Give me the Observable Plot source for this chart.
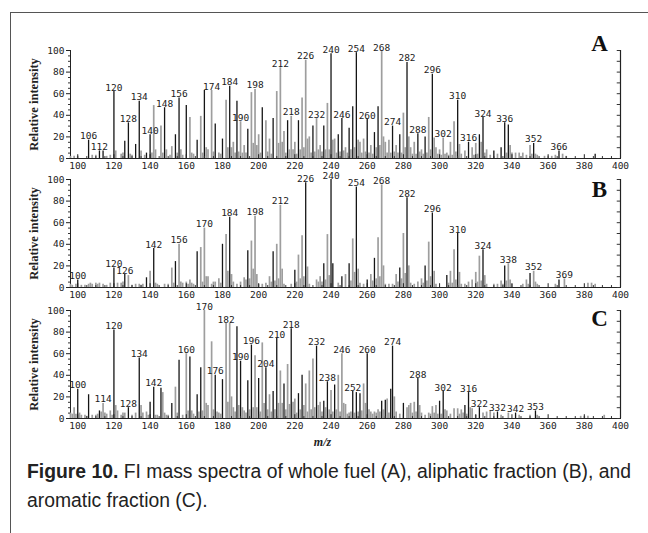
<!DOCTYPE html>
<html><head><meta charset="utf-8">
<script src="https://cdn.jsdelivr.net/npm/d3@7"></script>
<script src="https://cdn.jsdelivr.net/npm/@observablehq/plot@0.6"></script>
<style>
body{margin:0;background:#fff;}
#wrap{position:relative;width:648px;height:533px;overflow:hidden;background:#fff;}
.panel{position:absolute;left:0;}
#ftop{position:absolute;left:10px;top:12px;width:640px;height:0;border-top:1.6px solid #555;}
#fleft{position:absolute;left:10px;top:12px;height:530px;width:0;border-left:1.6px solid #555;}
.cap{position:absolute;left:27px;white-space:nowrap;font-family:"Liberation Sans","Arimo",Arial,sans-serif;font-size:20px;line-height:29px;color:#222;transform-origin:0 0;}
.cap b{font-weight:bold;}
</style>
</head><body>
<div id="wrap">
<div id="ftop"></div><div id="fleft"></div>
<div id="pA" class="panel" style="top:29px"></div>
<div id="pB" class="panel" style="top:157.5px"></div>
<div id="pC" class="panel" style="top:289px"></div>
<div id="cap1" class="cap" style="top:457px"><b>Figure 10.</b> FI mass spectra of whole fuel (A), aliphatic fraction (B), and</div>
<div id="cap2" class="cap" style="top:486px">aromatic fraction (C).</div>
</div>
<script>
// m/z tick labels
const xTicks = [100,120,140,160,180,200,220,240,260,280,300,320,340,360,380,400];
const yTicks = [0,20,40,60,80,100];

// Panel A: whole fuel  [m/z, relative intensity]
const aDark = [[106,17],[112,7],[114,7],[120,62],[126,16],[128,33],[132,13],[134,53],[138,5],[140,22],[148,47],[154,22],[156,56],[160,49],[166,17],[170,63],[176,32],[180,18],[184,67],[188,53],[194,27],[202,47],[208,37],[216,35],[222,35],[230,30],[236,30],[240,97],[244,22],[246,37],[250,28],[252,48],[254,98],[260,36],[264,24],[266,48],[274,30],[278,22],[282,89],[288,23],[292,20],[296,78],[310,54],[316,15],[322,22],[324,38],[330,7],[334,10],[336,33],[338,31],[352,14],[366,7],[386,4]];
const aLight = [[96,2],[98,2],[100,2],[108,3],[110,3],[116,2],[118,3],[121,7],[124,4],[125,5],[129,4],[130,3],[135,7],[137,3],[141,5],[142,49],[143,8],[146,30],[147,5],[149,8],[151,3],[152,11],[155,5],[157,8],[158,3],[162,38],[163,5],[164,4],[168,39],[169,5],[171,10],[172,8],[174,63],[175,6],[178,5],[179,4],[182,54],[183,10],[185,10],[186,15],[187,5],[189,6],[190,34],[191,5],[192,12],[193,5],[196,61],[197,14],[198,64],[199,12],[200,22],[201,5],[204,35],[205,6],[206,18],[207,4],[210,62],[211,14],[212,84],[213,15],[214,25],[215,5],[217,8],[218,39],[219,8],[220,15],[221,4],[223,8],[224,56],[225,10],[226,91],[227,18],[228,20],[229,5],[231,6],[232,37],[233,8],[234,12],[235,6],[237,8],[238,51],[239,8],[241,17],[242,18],[243,5],[245,6],[247,7],[248,10],[249,5],[251,8],[253,10],[255,17],[256,15],[257,5],[258,18],[259,6],[261,5],[262,12],[263,4],[265,10],[267,12],[268,99],[269,20],[270,15],[271,5],[272,17],[273,5],[275,6],[276,12],[277,5],[279,5],[280,42],[281,10],[283,20],[284,10],[285,4],[286,15],[287,4],[289,6],[290,8],[291,4],[293,5],[294,38],[295,8],[297,19],[298,10],[299,4],[300,8],[301,3],[302,19],[303,4],[304,5],[305,3],[306,15],[307,3],[308,34],[309,6],[311,13],[312,4],[314,7],[318,10],[319,3],[320,14],[321,4],[323,15],[325,5],[326,8],[328,3],[332,4],[337,5],[339,12],[340,5],[342,5],[344,5],[346,5],[348,3],[350,12],[351,4],[353,4],[354,3],[358,2],[360,2],[362,2],[364,3],[368,4],[370,2]];
const aLabels = [106,112,120,128,134,140,148,156,174,184,190,198,212,218,226,232,240,246,254,260,268,274,282,288,296,302,310,316,324,336,352,366];

// Panel B: aliphatic fraction
const bDark = [[100,7],[120,18],[126,12],[138,9],[142,36],[154,24],[166,33],[180,40],[184,65],[194,34],[208,33],[220,16],[226,97],[236,22],[240,100],[241,22],[246,10],[250,22],[254,93],[260,7],[264,27],[278,18],[282,83],[292,20],[296,69],[304,11],[310,50],[324,35],[336,20],[350,13],[366,7]];
const bLight = [[96,3],[97,2],[99,3],[102,2],[104,2],[106,3],[107,4],[108,3],[110,4],[111,3],[112,4],[114,3],[116,2],[118,4],[122,4],[124,4],[125,5],[128,11],[130,2],[132,3],[134,3],[135,2],[136,3],[140,15],[143,4],[144,3],[148,3],[150,3],[152,18],[153,4],[156,40],[157,5],[158,4],[160,5],[161,3],[162,7],[163,4],[164,3],[168,37],[169,5],[170,55],[171,10],[172,10],[174,3],[175,5],[176,5],[178,8],[179,4],[182,49],[183,15],[185,12],[186,5],[188,3],[190,5],[192,9],[193,7],[195,8],[196,43],[197,17],[198,66],[199,12],[200,3],[202,3],[204,4],[206,10],[207,5],[209,6],[210,40],[211,8],[212,76],[213,17],[214,3],[218,3],[221,5],[222,30],[223,8],[224,48],[225,10],[227,19],[228,3],[232,7],[233,5],[234,10],[235,5],[237,7],[238,49],[239,11],[244,4],[248,12],[251,6],[252,45],[253,14],[255,17],[256,4],[258,3],[262,12],[263,6],[265,8],[266,46],[267,10],[268,95],[269,20],[270,3],[272,3],[274,3],[276,12],[277,5],[279,8],[280,50],[281,13],[283,20],[284,4],[286,3],[288,5],[290,8],[291,4],[293,6],[294,42],[295,10],[297,15],[298,3],[305,4],[306,15],[307,4],[308,35],[309,7],[311,14],[312,3],[314,3],[316,5],[318,7],[320,14],[321,5],[322,29],[323,6],[325,11],[326,3],[330,3],[332,3],[334,6],[335,3],[337,6],[338,22],[339,7],[340,3],[346,3],[348,7],[349,3],[352,15],[353,5],[354,3],[364,3],[369,8],[382,4],[384,4],[386,3]];
const bLabels = [100,120,126,142,156,170,184,198,212,226,240,254,268,282,296,310,324,338,352,369];

// Panel C: aromatic fraction
const cDark = [[100,27],[106,22],[112,7],[120,82],[128,10],[134,56],[140,15],[142,29],[146,28],[152,14],[156,54],[162,57],[166,22],[168,47],[176,40],[180,36],[188,85],[190,53],[194,35],[196,68],[200,37],[204,47],[208,25],[210,74],[214,32],[218,83],[222,23],[224,40],[232,67],[236,16],[238,34],[242,31],[252,25],[254,24],[256,23],[260,60],[268,16],[270,17],[273,27],[274,67],[280,14],[288,37],[300,16],[302,25],[314,12],[316,24],[322,10],[332,6],[342,5],[353,7]];
const cLight = [[96,5],[97,4],[98,10],[99,4],[101,5],[102,3],[104,3],[105,2],[108,3],[110,3],[111,4],[113,6],[114,14],[115,5],[116,4],[118,7],[119,3],[121,12],[122,7],[124,3],[125,5],[126,5],[130,3],[132,5],[135,12],[136,5],[138,6],[139,3],[143,3],[144,3],[147,24],[148,5],[149,3],[150,3],[154,29],[155,5],[158,3],[160,60],[161,7],[163,7],[164,4],[167,6],[169,7],[170,100],[171,14],[172,12],[174,71],[175,8],[177,6],[178,5],[179,4],[182,88],[183,15],[184,88],[185,20],[186,10],[187,6],[189,12],[191,10],[192,7],[193,5],[195,8],[197,10],[198,58],[199,10],[201,6],[202,70],[203,14],[205,8],[206,22],[207,6],[209,8],[211,14],[212,44],[213,14],[215,8],[216,50],[217,13],[219,15],[220,18],[221,5],[223,8],[225,12],[226,32],[227,6],[228,44],[229,8],[230,55],[231,10],[233,12],[234,15],[235,6],[237,10],[239,8],[240,26],[241,6],[243,8],[244,40],[245,6],[246,60],[247,14],[248,13],[249,4],[250,5],[251,6],[253,5],[255,6],[257,7],[258,32],[259,14],[261,8],[262,6],[263,4],[264,6],[265,5],[266,8],[267,6],[269,8],[271,18],[272,5],[275,20],[276,6],[278,4],[282,10],[283,12],[284,14],[285,5],[286,15],[287,6],[289,12],[290,5],[292,3],[294,5],[295,4],[296,11],[297,5],[298,12],[299,4],[301,4],[303,8],[304,7],[306,4],[308,9],[310,9],[311,4],[312,8],[313,5],[315,4],[317,10],[318,9],[320,3],[324,5],[326,6],[328,7],[330,5],[334,3],[338,5],[344,3],[350,3],[354,3],[378,2],[380,2],[382,2],[391,3]];
const cLabels = [100,114,120,128,134,142,160,170,176,182,190,196,204,210,218,232,238,246,252,260,274,288,302,316,322,332,342,353];

const mono = "'DejaVu Sans Mono', monospace";
const serif = "'Liberation Serif', 'DejaVu Serif', serif";

function panel(dark, light, labels, letter, letterDy, showMz) {
  const all = dark.concat(light);
  const lab = labels.map(m => ({mz: m, v: d3.max(all.filter(d => d[0] === m), d => d[1])}));
  const minorX = d3.range(100, 400, 5).filter(v => v % 20 !== 0);
  const minorY = d3.range(0, 101, 5).filter(v => v % 20 !== 0);
  const rightTicks = d3.range(0, 101, 10);
  const marks = [
    Plot.ruleX(light, {x: d => d[0], y1: 0, y2: d => d[1], stroke: "#9e9e9e", strokeWidth: 1.7}),
    Plot.ruleX(dark, {x: d => d[0], y1: 0, y2: d => d[1], stroke: "#151515", strokeWidth: 1.3}),
    Plot.ruleX(xTicks, {x: d => d, y1: 0, y2: 3.5, stroke: "#222", strokeWidth: 1}),
    Plot.ruleX(minorX, {x: d => d, y1: 0, y2: 1.8, stroke: "#333", strokeWidth: 1}),
    Plot.ruleY(minorY, {y: d => d, x1: 94.9, x2: 96, stroke: "#333", strokeWidth: 1}),
    Plot.ruleX([400], {x: d => d, y1: 0, y2: 100, stroke: "#222", strokeWidth: 1.2}),
    Plot.ruleY(rightTicks, {y: d => d, x1: 398.2, x2: 400, stroke: "#333", strokeWidth: 1}),
    Plot.text(lab, {x: "mz", y: "v", text: d => String(d.mz), dy: -4, fontSize: 9.5, fontFamily: mono, fill: "#222"}),
    Plot.text([letter], {text: d => d, frameAnchor: "top-right", textAnchor: "middle", lineAnchor: "middle", dx: -21, dy: letterDy, fontSize: 23, fontWeight: "bold", fontFamily: serif, fill: "#111"}),
    Plot.text(["Relative intensity"], {text: d => d, frameAnchor: "left", rotate: -90, textAnchor: "middle", lineAnchor: "middle", dx: -37, fontSize: 12.5, fontWeight: "bold", fontFamily: serif, fill: "#222"})
  ];
  if (showMz) marks.push(Plot.text(["m/z"], {text: d => d, frameAnchor: "bottom", textAnchor: "middle", lineAnchor: "middle", dx: -23, dy: 24, fontSize: 12, fontWeight: "bold", fontStyle: "italic", fontFamily: serif, fill: "#222"}));
  return Plot.plot({
    width: 648, height: 150,
    marginLeft: 70, marginRight: 28, marginTop: 21, marginBottom: 21,
    style: {background: "transparent", overflow: "visible", fontFamily: mono, fontSize: "9.5px", color: "#222"},
    x: {domain: [96, 400], ticks: xTicks, tickSize: 0, tickPadding: 4, tickFormat: d => String(d), label: null, line: true},
    y: {domain: [0, 100], ticks: yTicks, tickSize: 4, tickPadding: 2, tickFormat: d => String(d), label: null, line: true},
    marks
  });
}

document.getElementById("pA").appendChild(panel(aDark, aLight, aLabels, "A", -7, false));
document.getElementById("pB").appendChild(panel(bDark, bLight, bLabels, "B", 10, false));
document.getElementById("pC").appendChild(panel(cDark, cLight, cLabels, "C", 8, true));

// condense caption lines to the reference line width
const c1 = document.getElementById("cap1"), c2 = document.getElementById("cap2");
const k = 604 / c1.getBoundingClientRect().width;
c1.style.transform = `scaleX(${k})`;
c2.style.transform = `scaleX(${k})`;
</script>
</body></html>
